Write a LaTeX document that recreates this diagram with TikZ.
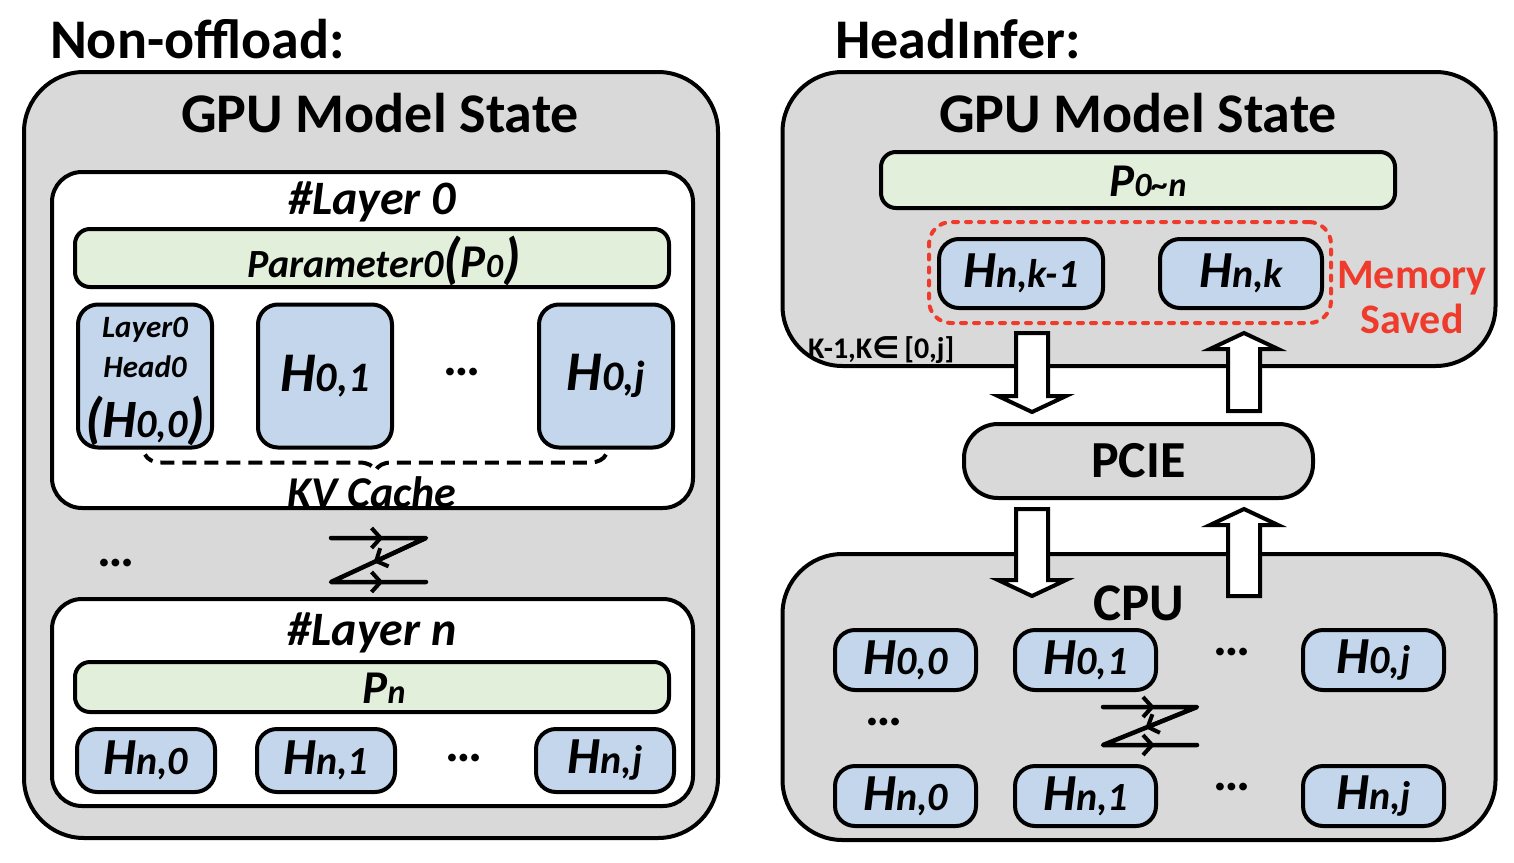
\documentclass[tikz,border=0pt]{standalone}
\usepackage{fontspec}
\setmainfont{Carlito}
\newfontfamily\symFont{DejaVu Sans}
\usepackage{tikz}
\usetikzlibrary{arrows.meta,calc,decorations.pathreplacing}
\definecolor{stateGray}{HTML}{D9D9D9}
\definecolor{paramGreen}{HTML}{E2EFDA}
\definecolor{headBlue}{HTML}{C3D6EC}
\definecolor{savedRed}{HTML}{EE3B2C}
\newcommand{\boxLine}{4pt}
\newcommand{\titleSize}{\fontsize{56}{60}\selectfont}
\newcommand{\layerSize}{\fontsize{48}{52}\selectfont}
\newcommand{\headH}[3]{{\fontsize{#1}{#1}\selectfont H}{\fontsize{#2}{#2}\selectfont #3}}
\newcommand{\bigHead}[1]{\headH{56}{42}{#1}}
\newcommand{\smallHead}[1]{\headH{52}{40}{#1}}
\newcommand{\paramP}[1]{{\fontsize{47}{47}\selectfont P}{\fontsize{34}{34}\selectfont #1}}

\begin{document}
\begin{tikzpicture}[x=1pt, y=-1pt, line width=\boxLine, every node/.style={inner sep=0pt},
	statebox/.style={draw, fill=stateGray, rounded corners=60pt, minimum width=696pt},
	layerbox/.style={draw, fill=white, rounded corners=30pt, minimum width=641pt},
	parambar/.style={draw, fill=paramGreen, rounded corners=15pt},
	headbox/.style={draw, fill=headBlue, rounded corners=20pt, font=\bfseries\itshape},
	pciebox/.style={draw, fill=stateGray, rounded corners=34pt},
	savedbox/.style={draw=savedRed, dash pattern=on 5pt off 8pt, line cap=round, rounded corners=22pt},
	title/.style={font=\bfseries\titleSize, anchor=base west},
	heading/.style={font=\bfseries\titleSize, anchor=base},
	layertxt/.style={font=\bfseries\itshape\layerSize, anchor=base},
	smalltxt/.style={font=\bfseries\itshape\fontsize{31}{31}\selectfont, anchor=base},
	savedtxt/.style={font=\bfseries\fontsize{42}{42}\selectfont, text=savedRed, anchor=base},
	dots/.style={font=\bfseries\fontsize{52}{52}\selectfont},
	kvbrace/.style={decorate, decoration={brace, amplitude=16pt}, line width=4pt, dash pattern=on 14pt off 8pt},
	zline/.style={line width=4.5pt, line cap=round, line join=round},
	ztip/.style={line width=4pt, -{Straight Barb[length=9pt,width=20pt]}},
	blockarrow/.style={draw, fill=white, line width=\boxLine},
	pics/blockarr/.style={code={\draw[blockarrow] (-16,0) -- (16,0) -- (16,#1-16) -- (34,#1-16) -- (0,#1) -- (-34,#1-16) -- (-16,#1-16) -- cycle;}}]
	\useasboundingbox (0,0) rectangle (1514,862);

	%% Non-offload
	\node[title] (titleL) at (48,58) {Non-offload:};
	\node[statebox, minimum width=694pt, minimum height=766pt] (gpuL) at (371,455) {};
	\node[heading] (gpuTxtL) at (380,132) {GPU Model State};

	\node[layerbox, minimum height=336pt] (layer0) at (372.5,340) {};
	\node[layertxt] (layer0Txt) at (372,214) {\#Layer 0};
	\node[parambar, minimum width=594pt, minimum height=58pt] (param0) at (372,258) {};
	\node[anchor=base, font=\bfseries\itshape\fontsize{40}{40}\selectfont] (param0Txt) at (384,277)
		{Parameter0{\fontsize{56}{56}\selectfont(}\paramP{0}{\fontsize{56}{56}\selectfont)}};
	\node[headbox, minimum width=134pt, minimum height=143pt] (h00) at (145,376) {};
	\node[smalltxt] (h00a) at (145,337) {Layer0};
	\node[smalltxt] (h00b) at (145,377) {Head0};
	\node[anchor=base, font=\bfseries\itshape] (h00c) at (145,437)
		{{\fontsize{56}{56}\selectfont(}\headH{54}{40}{0,0}{\fontsize{56}{56}\selectfont)}};
	\node[headbox, minimum width=134pt, minimum height=143pt] (h01) at (325,376) {\bigHead{0,1}};
	\node[dots] (dots0) at (462,372) {…};
	\node[headbox, minimum width=134pt, minimum height=143pt] (h0j) at (606,376) {\bigHead{0,j}};
	\draw[kvbrace] ([yshift=-5pt]h0j.south) -- ([yshift=-5pt]h00.south);
	\node[anchor=base, font=\bfseries\itshape\fontsize{44}{44}\selectfont] (kvTxt) at (372,507) {KV Cache};

	\node[dots] (dotsL) at (116,563) {…};
	\coordinate (zl1) at (331,538);
	\coordinate (zl2) at (426,538);
	\coordinate (zl3) at (331,582);
	\coordinate (zl4) at (426,582);
	\draw[zline] (zl1) -- (zl2) -- (zl3) -- (zl4);
	\draw[ztip] (zl1) -- ($(zl1)!0.55!(zl2)$);
	\draw[ztip] (zl2) -- ($(zl2)!0.55!(zl3)$);
	\draw[ztip] (zl3) -- ($(zl3)!0.55!(zl4)$);

	\node[layerbox, minimum height=207pt] (layerN) at (372.5,702.5) {};
	\node[layertxt] (layerNTxt) at (372,645) {\#Layer n};
	\node[parambar, minimum width=594pt, minimum height=50pt] (paramN) at (372,687) {};
	\node[anchor=base, font=\bfseries\itshape] (paramNTxt) at (384,703) {\paramP{n}};
	\node[headbox, minimum width=138pt, minimum height=63pt] (hn0) at (146,760.5) {\smallHead{n,0}};
	\node[headbox, minimum width=138pt, minimum height=63pt] (hn1) at (326,760.5) {\smallHead{n,1}};
	\node[dots] (dotsN) at (464,758) {…};
	\node[headbox, minimum width=138pt, minimum height=63pt] (hnj) at (605,760.5) {\smallHead{n,j}};

	%% HeadInfer
	\node[title] (titleR) at (833,58) {HeadInfer:};
	\node[statebox, minimum width=713pt, minimum height=294pt] (gpuR) at (1139,219) {};
	\node[heading] (gpuTxtR) at (1138,132) {GPU Model State};
	\node[parambar, minimum width=514pt, minimum height=56pt] (paramAll) at (1138,180) {};
	\node[anchor=base, font=\bfseries\itshape] (paramAllTxt) at (1148,196) {\paramP{0\textasciitilde n}};
	\node[savedbox, minimum width=402pt, minimum height=101pt] (saved) at (1130,272.5) {};
	\node[headbox, minimum width=164pt, minimum height=69pt] (hk1) at (1021,273.5) {\smallHead{n,k-1}};
	\node[headbox, minimum width=162pt, minimum height=69pt] (hk) at (1241,273.5) {\smallHead{n,k}};
	\node[savedtxt] (memTxt) at (1412,288) {Memory};
	\node[savedtxt] (savedTxt) at (1412,333) {Saved};
	\node[anchor=base west, font=\bfseries\fontsize{30}{30}\selectfont] (rangeTxt) at (806,358) {K-1,K{\symFont ∈}\,[0,j]};

	\node[pciebox, minimum width=349pt, minimum height=74pt, font=\bfseries\fontsize{52}{52}\selectfont] (pcie) at (1138.5,461) {PCIE};

	\node[statebox, minimum width=713pt, minimum height=286pt] (cpu) at (1139,697) {};
	\node[heading, font=\bfseries\fontsize{53}{53}\selectfont] (cpuTxt) at (1139,620) {CPU};
	\node[headbox, minimum width=141pt, minimum height=60pt] (c00) at (905.5,660) {\smallHead{0,0}};
	\node[headbox, minimum width=141pt, minimum height=60pt] (c01) at (1085.5,660) {\smallHead{0,1}};
	\node[dots] (dotsC0) at (1232,652) {…};
	\node[headbox, minimum width=141pt, minimum height=60pt] (c0j) at (1373.5,660) {\smallHead{0,j}};
	\node[dots] (dotsC) at (884,722) {…};
	\coordinate (zr1) at (1103,707);
	\coordinate (zr2) at (1197,707);
	\coordinate (zr3) at (1103,745);
	\coordinate (zr4) at (1197,745);
	\draw[zline] (zr1) -- (zr2) -- (zr3) -- (zr4);
	\draw[ztip] (zr1) -- ($(zr1)!0.55!(zr2)$);
	\draw[ztip] (zr2) -- ($(zr2)!0.55!(zr3)$);
	\draw[ztip] (zr3) -- ($(zr3)!0.55!(zr4)$);
	\node[headbox, minimum width=141pt, minimum height=60pt] (cn0) at (905.5,796) {\smallHead{n,0}};
	\node[headbox, minimum width=141pt, minimum height=60pt] (cn1) at (1085.5,796) {\smallHead{n,1}};
	\node[dots] (dotsCn) at (1232,787) {…};
	\node[headbox, minimum width=141pt, minimum height=60pt] (cnj) at (1373.5,796) {\smallHead{n,j}};

	% transfers over PCIE
	\pic at (1032,333) {blockarr=79};
	\pic[rotate=180] at (1244,411) {blockarr=78};
	\pic at (1032,509) {blockarr=87};
	\pic[rotate=180] at (1244,596) {blockarr=87};
\end{tikzpicture}
\end{document}
